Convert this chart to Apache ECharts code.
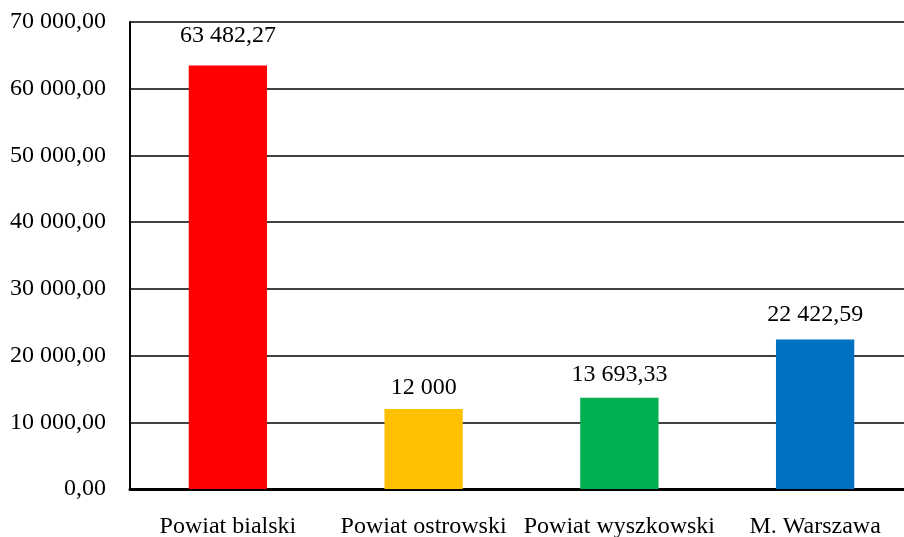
<!DOCTYPE html>
<html>
<head>
<meta charset="utf-8">
<script src="https://cdn.jsdelivr.net/npm/echarts@6/dist/echarts.min.js"></script>
<style>
  html, body { margin: 0; padding: 0; background: #fff; overflow: hidden; }
  /* plot area runs a little past the right edge, as in the source picture */
  #chart { width: 913px; height: 537px; }
</style>
</head>
<body>
<div id="chart"></div>
<script>
const categories = ["Powiat bialski", "Powiat ostrowski", "Powiat wyszkowski", "M. Warszawa"];
const values = [63482.27, 12000, 13693.33, 22422.59];
const valueLabels = ["63 482,27", "12 000", "13 693,33", "22 422,59"];
const colors = ["#FF0000", "#FFC000", "#00B050", "#0070C0"];
const yTicks = [0, 10000, 20000, 30000, 40000, 50000, 60000, 70000];

// label gaps above each bar, as Excel placed them
const labelGaps = [18, 9, 11, 13];

const font = "'Liberation Serif', 'Times New Roman', serif";

function fmtTick(v) {
  const s = Math.round(v).toString().replace(/\B(?=(\d{3})+(?!\d))/g, " ");
  return s + ",00";
}

const chart = echarts.init(document.getElementById("chart"));
chart.setOption({
  animation: false,
  grid: {
    left: 130,
    right: 0,
    top: 22,
    bottom: 48,
    outerBoundsMode: "none",
  },
  xAxis: {
    type: "category",
    data: categories,
    axisLine: { lineStyle: { color: "#000", width: 3 } },
    axisTick: { show: false },
    axisLabel: {
      color: "#000",
      fontFamily: font,
      fontSize: 24,
      margin: 26,
      interval: 0,
    },
  },
  yAxis: {
    type: "value",
    min: yTicks[0],
    max: yTicks[yTicks.length - 1],
    interval: 10000,
    axisLine: { show: true, lineStyle: { color: "#000", width: 2 } },
    axisTick: { show: false },
    splitLine: { lineStyle: { color: "#000", width: 1.5 } },
    axisLabel: {
      color: "#000",
      fontFamily: font,
      fontSize: 24,
      margin: 24,
      formatter: fmtTick,
    },
  },
  series: [
    {
      type: "bar",
      barWidth: "40%",
      data: values.map((v, i) => ({
        value: v,
        itemStyle: { color: colors[i] },
        label: { distance: labelGaps[i] },
      })),
      label: {
        show: true,
        position: "top",
        color: "#000",
        fontFamily: font,
        fontSize: 24,
        formatter: (p) => valueLabels[p.dataIndex],
      },
    },
  ],
});
</script>
</body>
</html>
